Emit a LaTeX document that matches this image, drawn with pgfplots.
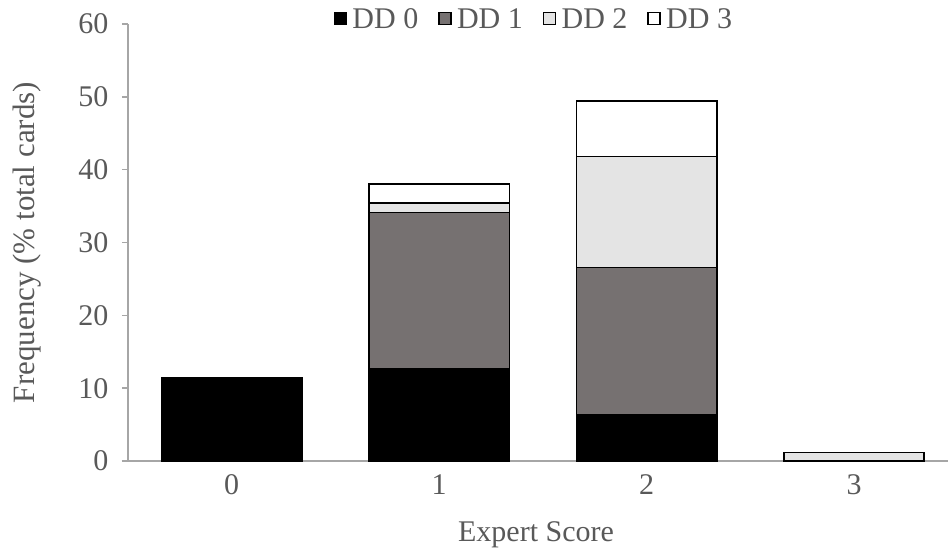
\documentclass[border=0pt]{standalone}
\usepackage{pgfplots}
\pgfplotsset{compat=1.18}
\usepackage{fontspec}
\setmainfont{Liberation Serif}
\definecolor{txt}{HTML}{595959}
\definecolor{axl}{HTML}{A6A6A6}
\definecolor{dd1}{HTML}{767171}
\definecolor{dd2}{HTML}{E4E4E4}
\begin{document}
\begin{tikzpicture}
\path[use as bounding box] (-128pt,-89pt) rectangle (820pt,461pt);
\begin{axis}[
  at={(0pt,0pt)}, anchor=south west,
  scale only axis, width=820pt, height=437pt,
  ybar stacked, bar width=0.675,
  xmin=-0.5, xmax=3.452, ymin=0, ymax=60,
  xtick={0,1,2,3}, ytick={0,10,...,60},
  axis lines*=left,
  x axis line style={-, draw=axl, line width=1.5pt, shorten <=-6pt},
  y axis line style={-, draw=axl, line width=1.5pt},
  xtick style={draw=none},
  ytick style={draw=axl, line width=1.5pt},
  tick align=outside, major tick length=6pt,
  x tick label style={font=\fontsize{30}{34}\selectfont, text=txt, yshift=-4pt},
  y tick label style={font=\fontsize{30}{34}\selectfont, text=txt, xshift=-10pt},
  /pgf/number format/assume math mode=true,
  xlabel={Expert Score}, ylabel={Frequency (\% total cards)},
  every axis x label/.style={at={(axis description cs:0.4976,-0.1693)}, anchor=center, font=\fontsize{30}{34}\selectfont, text=txt},
  every axis y label/.style={at={(axis description cs:-0.1232,0.5)}, anchor=center, rotate=90, font=\fontsize{31}{34}\selectfont, text=txt},
  legend style={at={(0.495,1.01)}, anchor=center, draw=none, fill=none,
    legend columns=4, font=\fontsize{30}{34}\selectfont, text=txt,
    /tikz/every even column/.append style={column sep=18pt}},
  legend image code/.code={\draw[#1, line width=1.5pt] (0pt,-5pt) rectangle (12pt,7pt); \path[draw=none, fill=none] (0pt,0pt) -- (16pt,0pt);},
  legend cell align=left,
  clip=false,
]
\addplot[fill=black, draw=black, line width=1.5pt] coordinates {(0,11.4) (1,12.7) (2,6.3) (3,0)};
\addplot[fill=dd1, draw=black, line width=1.5pt] coordinates {(0,0) (1,21.4) (2,20.3) (3,0)};
\addplot[fill=dd2, draw=black, line width=1.5pt] coordinates {(0,0) (1,1.3) (2,15.2) (3,1.2)};
\addplot[fill=white, draw=black, line width=1.5pt] coordinates {(0,0) (1,2.6) (2,7.65) (3,0)};
\legend{DD 0, DD 1, DD 2, DD 3}
\end{axis}
\end{tikzpicture}
\end{document}
